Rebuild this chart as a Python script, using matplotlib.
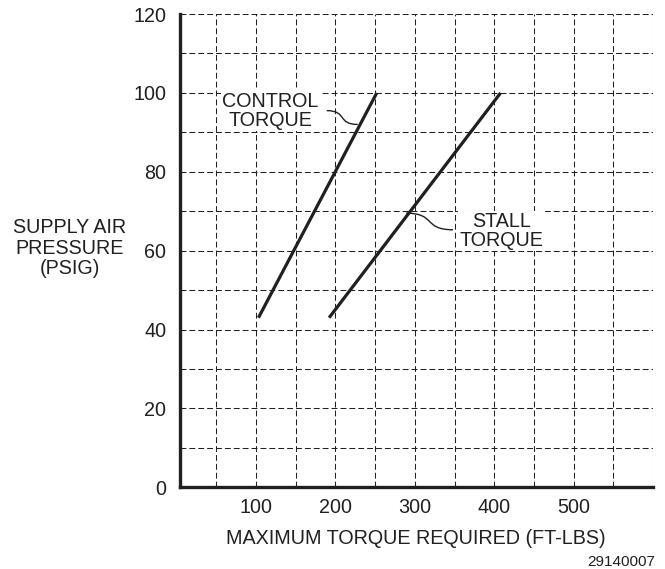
import matplotlib
matplotlib.use("Agg")
import matplotlib.pyplot as plt
from matplotlib.path import Path
from matplotlib.patches import PathPatch
import numpy as np

# Data: torque (ft-lbs) vs supply air pressure (psig)
control_torque = [103, 252]
control_pressure = [43, 100]
stall_torque = [192, 408]
stall_pressure = [43, 100]

x_ticks = [100, 200, 300, 400, 500]
y_ticks = [0, 20, 40, 60, 80, 100, 120]

plt.rcParams['font.family'] = ['Liberation Sans', 'DejaVu Sans']
plt.rcParams['lines.scale_dashes'] = False

ink = '#231f20'
fs = 14.2

fig = plt.figure(figsize=(6.65, 5.69), dpi=100)
ax = fig.add_axes([179.5 / 665, 1 - 487.3 / 569, (653 - 179.5) / 665, (487.3 - 14) / 569])

ax.set_xlim(3.5, 600)
ax.set_ylim(0, 120)

#Grid every 50 ft-lbs and 10 psig, labels only on the major ones
ax.set_xticks(x_ticks)
ax.set_xticks(np.arange(50, 601, 50), minor=True)
ax.set_yticks(y_ticks)
ax.set_yticks(np.arange(0, 121, 10), minor=True)
ax.grid(True, which='both', color=ink, linewidth=0.75, dashes=(4.2, 2.2))
ax.set_axisbelow(True)

ax.tick_params(which='both', length=0, labelsize=fs, colors=ink)
ax.tick_params(axis='x', pad=8)
ax.tick_params(axis='y', pad=9.5)

for side in ['top', 'right']:
    ax.spines[side].set_visible(False)
for side in ['left', 'bottom']:
    ax.spines[side].set_linewidth(2.4)
    ax.spines[side].set_color(ink)

#The two torque curves
ax.plot(control_torque, control_pressure, color=ink, linewidth=2.3, solid_capstyle='butt')
ax.plot(stall_torque, stall_pressure, color=ink, linewidth=2.3, solid_capstyle='butt')

#Labels with squiggle leaders
box = dict(facecolor='white', edgecolor='none', pad=1)
ax.text(118, 95.5, 'CONTROL\nTORQUE', ha='center', va='center', fontsize=fs,
        color=ink, linespacing=1.0, bbox=box)
ax.text(409, 65, 'STALL\nTORQUE', ha='center', va='center', fontsize=fs,
        color=ink, linespacing=1.0, bbox=box)


def leader(p0, p1, d):
    verts = [p0, (p0[0] + d, p0[1]), (p1[0] - d, p1[1]), p1]
    codes = [Path.MOVETO, Path.CURVE4, Path.CURVE4, Path.CURVE4]
    ax.add_patch(PathPatch(Path(verts, codes), facecolor='none', edgecolor=ink, linewidth=1.0))


leader((189, 95.5), (228, 92), 26)
leader((289, 69.5), (348, 65.3), 38)

ax.set_xlabel('MAXIMUM TORQUE REQUIRED (FT-LBS)', fontsize=fs, color=ink, labelpad=8)
fig.text(70 / 665, 1 - 248 / 569, 'SUPPLY AIR\nPRESSURE\n(PSIG)', ha='center', va='center',
         fontsize=fs, color=ink, linespacing=1.1)
fig.text(655 / 665, 1 - 562 / 569, '29140007', ha='right', va='center', fontsize=11, color=ink)

fig.savefig('out.png', dpi=100)
